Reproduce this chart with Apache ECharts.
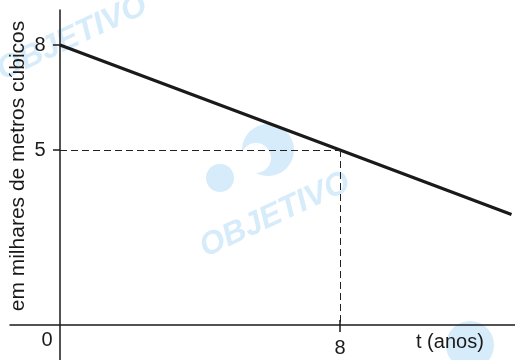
<!DOCTYPE html>
<html>
<head>
<meta charset="utf-8">
<script src="https://cdn.jsdelivr.net/npm/echarts@6/dist/echarts.min.js"></script>
<style>
  html, body { margin: 0; padding: 0; background: #fff; }
  #chart { width: 515px; height: 360px; }
</style>
</head>
<body>
<div id="chart"></div>
<script>
// volume (milhares de m³) ao longo do tempo (anos)
const tempo = [0, 8, 12.9];
const volume = [8, 5, 3.16];
const yTicks = [5, 8];
const xTicks = [8];
const yName = 'em milhares de metros cúbicos';
const xName = 't (anos)';

const font = '"Liberation Sans", Arial, sans-serif';
const ink = '#1a1a1a';
const wm = '#d6ecfa';

const chart = echarts.init(document.getElementById('chart'));

const option = {
  animation: false,
  grid: { left: 10, right: 0, top: 10, bottom: 0, outerBoundsMode: 'none' },
  xAxis: {
    type: 'value',
    min: -50 / 35,
    max: 13,
    splitLine: { show: false },
    axisLine: { onZero: true, lineStyle: { color: ink, width: 1.5 } },
    axisTick: { show: false },
    axisLabel: { show: false }
  },
  yAxis: {
    type: 'value',
    min: -1,
    max: 9,
    splitLine: { show: false },
    axisLine: { onZero: true, lineStyle: { color: ink, width: 1.5 } },
    axisTick: { show: false },
    axisLabel: { show: false }
  },
  series: [
    {
      type: 'line',
      data: tempo.map((t, i) => [t, volume[i]]),
      symbol: 'none',
      lineStyle: { color: ink, width: 3.2 },
      markLine: {
        silent: true,
        symbol: 'none',
        label: { show: false },
        lineStyle: { color: '#222', width: 1, type: [7, 4] },
        data: [
          [{ coord: [0, volume[1]] }, { coord: [tempo[1], volume[1]] }],
          [{ coord: [tempo[1], volume[1]] }, { coord: [tempo[1], 0] }]
        ]
      }
    }
  ]
};

chart.setOption(option);

// rótulos, marcas dos eixos e marca d'agua
function txt(x, y, s, align, extra) {
  return Object.assign({ type: 'text', x: x, y: y,
    style: { text: s, fill: ink, font: '20px ' + font, align: align, verticalAlign: 'middle' } }, extra || {});
}
function tick(x1, y1, x2, y2) {
  return { type: 'line', shape: { x1: x1, y1: y1, x2: x2, y2: y2 }, style: { stroke: ink, lineWidth: 1.5 } };
}
const origin = chart.convertToPixel({ gridIndex: 0 }, [0, 0]);
const labels = [];
yTicks.forEach(v => {
  const p = chart.convertToPixel({ gridIndex: 0 }, [0, v]);
  labels.push(tick(p[0] - 7, p[1], p[0], p[1]));
  labels.push(txt(p[0] - 20, p[1], String(v), 'center'));
});
xTicks.forEach(v => {
  const p = chart.convertToPixel({ gridIndex: 0 }, [v, 0]);
  labels.push(tick(p[0], p[1] - 5, p[0], p[1] + 7));
  labels.push(txt(p[0], p[1] + 23, String(v), 'center'));
});
labels.push(txt(origin[0] - 13, origin[1] + 15, '0', 'center'));
labels.push(txt(416, origin[1] + 17, xName, 'left'));
labels.push(txt(18, 166, yName, 'center', { rotation: Math.PI / 2, style: { text: yName, fill: ink, font: '21px ' + font, align: 'center', verticalAlign: 'middle' } }));

const marca = [
  { type: 'text', z: -10, silent: true, x: 275, y: 215, rotation: 25 * Math.PI / 180,
    style: { text: 'OBJETIVO', fill: wm, font: 'italic bold 32px ' + font, align: 'center', verticalAlign: 'middle' } },
  { type: 'circle', z: -10, silent: true, shape: { cx: 268, cy: 150, r: 26 }, style: { fill: wm } },
  { type: 'circle', z: -10, silent: true, shape: { cx: 256, cy: 158, r: 15 }, style: { fill: '#fff' } },
  { type: 'circle', z: -10, silent: true, shape: { cx: 220, cy: 178, r: 14 }, style: { fill: wm } },
  { type: 'text', z: -10, silent: true, x: 72, y: 38, rotation: 25 * Math.PI / 180,
    style: { text: 'OBJETIVO', fill: wm, font: 'italic bold 32px ' + font, align: 'center', verticalAlign: 'middle' } },
  { type: 'circle', z: -10, silent: true, shape: { cx: 470, cy: 345, r: 24 }, style: { fill: wm } }
];

chart.setOption({ graphic: marca.concat(labels) });
</script>
</body>
</html>
